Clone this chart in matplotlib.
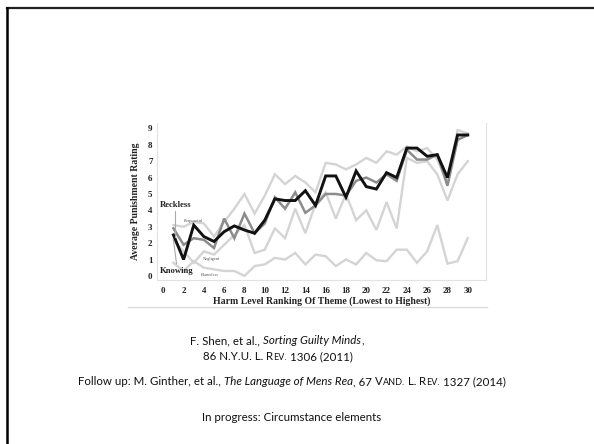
import matplotlib.pyplot as plt
import numpy as np
from matplotlib.lines import Line2D

# --- data (Shen et al. 2011) ---
harm_rank = np.arange(1, 31)
knowing = [2.5, 1.0, 3.1, 2.4, 2.1, 2.7, 3.05, 2.8, 2.6, 3.4, 4.7, 4.6, 4.6, 5.2, 4.3,
           6.1, 6.1, 4.8, 6.4, 5.45, 5.3, 6.3, 6.0, 7.8, 7.8, 7.3, 7.4, 6.0, 8.6, 8.6]
reckless = [2.9, 1.9, 2.3, 2.2, 1.7, 3.5, 2.3, 3.8, 2.6, 3.2, 4.8, 4.1, 5.1, 3.85, 4.3,
            5.0, 5.0, 4.9, 5.8, 6.0, 5.7, 6.2, 5.8, 7.7, 7.1, 7.1, 7.4, 5.5, 8.3, 8.6]
purposeful = [3.1, 3.0, 3.3, 3.2, 2.4, 3.3, 4.1, 5.0, 3.8, 4.9, 6.2, 5.6, 6.1, 5.7, 5.1,
              6.9, 6.8, 6.5, 6.8, 7.2, 6.9, 7.6, 7.4, 7.9, 7.6, 7.8, 7.1, 5.7, 8.9, 8.7]
negligent = [2.2, 1.5, 0.8, 1.5, 1.3, 1.9, 2.5, 3.1, 1.4, 1.6, 2.9, 2.3, 4.1, 2.6, 4.4,
             5.1, 3.5, 5.0, 3.4, 4.0, 2.8, 4.5, 2.9, 7.2, 6.9, 7.0, 6.2, 4.6, 6.2, 7.0]
blameless = [0.8, 0.3, 0.9, 0.5, 0.4, 0.3, 0.3, 0.0, 0.6, 0.7, 1.1, 1.0, 1.4, 0.7, 1.3,
             1.2, 0.6, 1.0, 0.7, 1.4, 0.95, 0.9, 1.6, 1.6, 0.8, 1.5, 3.1, 0.75, 0.9, 2.3]
y_ticks = list(range(0, 10))
x_ticks = list(range(0, 31, 2))

SERIF = 'Liberation Serif'
SANS = 'Lato'
LIGHT = '#d4d4d4'
MID = '#8c8c8c'

W, H = 594, 444
fig = plt.figure(figsize=(W / 100, H / 100), dpi=100)
fig.patch.set_facecolor('white')

# slide frame (top + left edge)
fig.add_artist(Line2D([6.5 / W, 1], [1 - 8 / H, 1 - 8 / H], color='#222222', lw=1.6,
                      transform=fig.transFigure))
fig.add_artist(Line2D([6.5 / W, 6.5 / W], [0, 1 - 8 / H], color='black', lw=1.8,
                      transform=fig.transFigure))
# bottom edge of the pasted chart image
fig.add_artist(Line2D([128 / W, 487 / W], [1 - 307 / H, 1 - 307 / H], color='#dcdcdc', lw=1.0,
                      transform=fig.transFigure))

ax = fig.add_axes([156.7 / W, 1 - 280 / H, (486 - 156.7) / W, (280 - 123.5) / H])
for series in (purposeful, negligent, blameless):
    ax.plot(harm_rank, series, color=LIGHT, lw=1.7, solid_joinstyle='miter')
ax.plot(harm_rank, reckless, color=MID, lw=1.8, solid_joinstyle='miter')
ax.plot(harm_rank, knowing, color='#111111', lw=2.1, solid_joinstyle='miter')

ax.set_xlim(-0.65, 31.8)
ax.set_ylim(-0.25, 9.3)
ax.set_xticks(x_ticks)
ax.set_yticks(y_ticks)
ax.tick_params(length=0, labelsize=6.5, colors='#222222')
ax.tick_params(axis='x', pad=5)
ax.tick_params(axis='y', pad=3)
for lab in ax.get_xticklabels() + ax.get_yticklabels():
    lab.set_fontfamily(SERIF)
    lab.set_fontweight('bold')
for side in ('left', 'right', 'bottom'):
    ax.spines[side].set_color('#e2e2e2')
    ax.spines[side].set_linewidth(0.8)
ax.spines['top'].set_visible(False)

ax.set_xlabel('Harm Level Ranking Of Theme (Lowest to Highest)', family=SERIF,
              weight='bold', size=7, color='#222222', labelpad=1)
ax.set_ylabel('Average Punishment Rating', family=SERIF, weight='bold', size=7,
              color='#222222', labelpad=6)

# in-chart labels and pointers
ax.text(-0.3, 4.3, 'Reckless', family=SERIF, weight='bold', size=6.2, color='#222222',
        va='center')
ax.text(-0.3, 0.3, 'Knowing', family=SERIF, weight='bold', size=6.2, color='#222222',
        va='center')
ax.text(2.0, 3.35, 'Purposeful', family=SERIF, size=3.2, color='#555555', va='center')
ax.text(3.9, 1.05, 'Negligent', family=SERIF, size=3.2, color='#555555', va='center')
ax.text(3.7, 0.05, 'Blameless', family=SERIF, size=3.2, color='#555555', va='center')
ax.plot([1.2, 1.2], [3.95, 2.4], color='#aaaaaa', lw=0.8)
ax.plot([1.3, 1.0], [0.75, 2.2], color='#aaaaaa', lw=0.8)


# --- citation text under the chart ---
def rich_line(y_px, center_px, parts, size):
    r = fig.canvas.get_renderer()
    probe1 = fig.text(0, 0, 'n n', family=SANS, size=size)
    probe2 = fig.text(0, 0, 'nn', family=SANS, size=size)
    space = probe1.get_window_extent(r).width - probe2.get_window_extent(r).width
    probe1.remove()
    probe2.remove()
    items = []
    total = 0.0
    for part in parts:
        if part is None:
            total += space
            continue
        txt, style = part
        kw = dict(family=SANS, size=size, color='#111111', va='baseline', ha='left')
        if style == 'i':
            kw['style'] = 'italic'
        elif style == 's':
            kw['size'] = size * 0.78
        t = fig.text(0, 1 - y_px / H, txt, **kw)
        items.append((t, total))
        total += t.get_window_extent(r).width
    x0 = center_px - total / 2
    for t, off in items:
        t.set_x((x0 + off) / W)


SP = None
FS = 8.3
rich_line(344, 277, [('F. Shen, et al.,', 'n'), SP, ('Sorting Guilty Minds', 'i'), (',', 'n')], FS)
rich_line(360, 278, [('86 N.Y.U. L.', 'n'), SP, ('R', 'n'), ('EV.', 's'), SP,
                     ('1306 (2011)', 'n')], FS)
rich_line(385, 292, [('Follow up: M. Ginther, et al.,', 'n'), SP,
                     ('The Language of Mens Rea', 'i'), (', 67', 'n'), SP, ('V', 'n'),
                     ('AND.', 's'), SP, ('L.', 'n'), SP, ('R', 'n'), ('EV.', 's'), SP,
                     ('1327 (2014)', 'n')], FS)
rich_line(421, 292, [('In progress: Circumstance elements', 'n')], FS)

fig.savefig('out.png', dpi=100)
